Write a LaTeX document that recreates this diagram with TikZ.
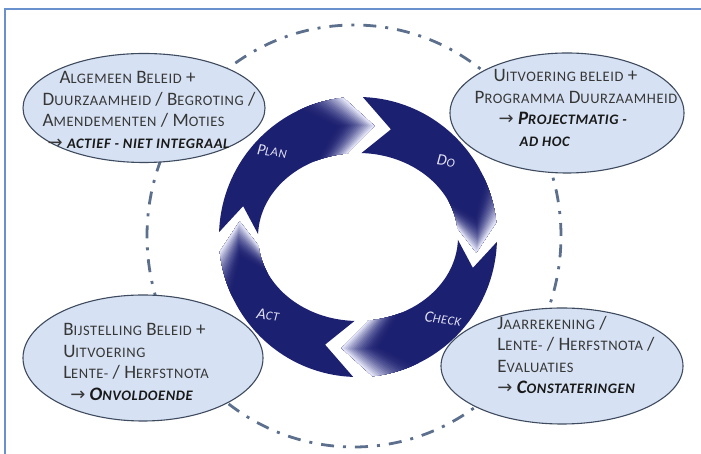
\documentclass[tikz,border=0pt]{standalone}
\usepackage{fontspec}
\setmainfont{Carlito}
\newfontfamily\kapfont[LetterSpace=4]{Carlito}
\newfontfamily\arrowfont{DejaVu Sans}
\usetikzlibrary{shapes.geometric}

\definecolor{navy}{RGB}{28,32,112}
\definecolor{lila}{RGB}{226,226,246}
\definecolor{vulblauw}{RGB}{214,226,243}
\definecolor{rand}{RGB}{62,74,94}
\definecolor{stip}{RGB}{92,112,142}
\definecolor{kaderblauw}{RGB}{105,145,205}
\definecolor{tekst}{RGB}{55,55,55}
\definecolor{donker}{RGB}{25,25,25}

% fake small caps: ellipse text and ring labels
\newcommand\kl[1]{{\kapfont\fontsize{14.5}{21.5}\selectfont #1}}
\newcommand\kr[1]{{\kapfont\fontsize{12.5}{13}\selectfont #1}}
\newcommand\pijl{{\arrowfont\fontsize{18}{21.5}\selectfont →}}

\begin{document}
\begin{tikzpicture}[x=1pt, y=1pt,
    every node/.style={font=\fontsize{19}{21.5}\selectfont},
    fase/.style={ellipse, draw=rand, line width=1.1pt, fill=vulblauw, inner sep=0pt},
    fasetekst/.style={align=left, text=tekst, inner sep=0pt},
    ringtekst/.style={text=lila, font=\fontsize{16}{16}\selectfont\itshape, rotate=-8},
    cirkel/.style={draw=stip, line width=2.8pt, dash pattern=on 13pt off 9pt on 3pt off 9pt},
    kader/.style={draw=kaderblauw, line width=1.6pt},
]
    \useasboundingbox (0,0) rectangle (701,454);
    \draw[kader] (5,0) -- (5,445) -- (701,445);

    %% dash-dot circle behind everything
    \draw[cirkel] (354,218) ellipse[x radius=207, y radius=211];

    %% PDCA ring: four chevron arrows, heads fading out
    \begin{scope}[shift={(358,217)}]
    \foreach \g in {175,85,-5,-95} {
        \pgfmathsetmacro\a{\g+3}
        \pgfmathsetmacro\b{\g-79}
        \fill[navy] (\a:139 and 140)
            arc[start angle=\a, end angle=\b, x radius=139, y radius=140]
            -- ({\b-14}:119.5 and 112) -- (\b:100 and 84)
            arc[start angle=\b, end angle=\a, x radius=100, y radius=84]
            -- ({\a-14}:119.5 and 112) -- cycle;
        \foreach \k in {0,...,19} {
            \pgfmathsetmacro\s{\b+20-\k}
            \pgfmathtruncatemacro\p{100*(\k/19)^2}
            \fill[lila!\p!navy] (\s:100 and 84) -- ({\s-14}:119.5 and 112)
                -- (\s:139 and 140)
                arc[start angle=\s, end angle=\b, x radius=139, y radius=140]
                -- ({\b-14}:119.5 and 112) -- (\b:100 and 84)
                arc[start angle=\b, end angle=\s, x radius=100, y radius=84]
                -- cycle;
        }
    }
    \end{scope}
    \node[ringtekst] (plan)  at (272,303) {P\kr{LAN}};
    \node[ringtekst] (do)    at (446,293) {D\kr{O}};
    \node[ringtekst] (check) at (443,135) {C\kr{HECK}};
    \node[ringtekst] (act)   at (268,139) {A\kr{CT}};

    %% the four phase ellipses
    \node[fase, minimum width=242pt, minimum height=109pt] (beleid) at (144,346) {};
    \node[fase, minimum width=234pt, minimum height=120pt] (uitvoering) at (567,341) {};
    \node[fase, minimum width=242pt, minimum height=116pt] (controle) at (562,88) {};
    \node[fase, minimum width=240pt, minimum height=126pt] (bijstelling) at (143,96) {};

    \node[fasetekst] (beleidtekst) at ([xshift=5pt,yshift=-2pt]beleid.center)
        {\hspace*{17pt}A\kl{LGEMEEN} B\kl{ELEID} +\\
         D\kl{UURZAAMHEID} / B\kl{EGROTING} /\\
         A\kl{MENDEMENTEN} / M\kl{OTIES}\\
         \hspace*{5pt}\pijl\ {\color{donker}\bfseries\itshape\kl{ACTIEF - NIET INTEGRAAL}}};
    \node[fasetekst] (uitvoeringtekst) at ([xshift=9pt,yshift=5pt]uitvoering.center)
        {\hspace*{19pt}U\kl{ITVOERING BELEID} +\\
         P\kl{ROGRAMMA} D\kl{UURZAAMHEID}\\
         \hspace*{24pt}\pijl\ {\color{donker}\bfseries\itshape P\kl{ROJECTMATIG -}}\\
         \hspace*{45pt}{\color{donker}\bfseries\itshape\kl{AD HOC}}};
    \node[fasetekst] (controletekst) at ([xshift=14pt,yshift=11pt]controle.center)
        {J\kl{AARREKENING} /\\
         L\kl{ENTE-} / H\kl{ERFSTNOTA} /\\
         E\kl{VALUATIES}\\
         \pijl\ {\color{donker}\bfseries\itshape C\kl{ONSTATERINGEN}}};
    \node[fasetekst] (bijstellingtekst) at ([xshift=-7pt,yshift=-4pt]bijstelling.center)
        {B\kl{IJSTELLING} B\kl{ELEID} +\\
         U\kl{ITVOERING}\\
         L\kl{ENTE-} / H\kl{ERFSTNOTA}\\
         \hspace*{7pt}\pijl\ {\color{donker}\bfseries\itshape O\kl{NVOLDOENDE}}};
\end{tikzpicture}
\end{document}
